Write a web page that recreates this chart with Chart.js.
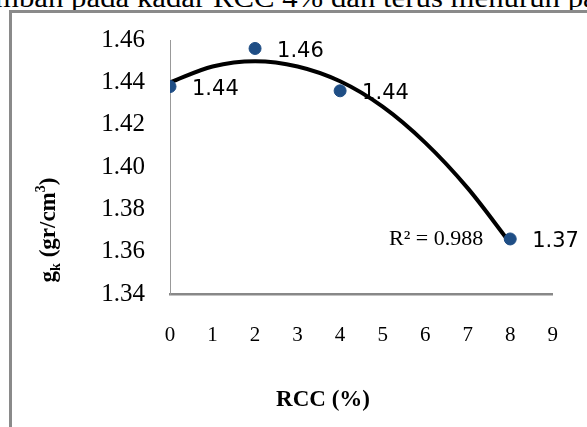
<!DOCTYPE html>
<html>
<head>
<meta charset="utf-8">
<script src="https://cdn.jsdelivr.net/npm/chart.js@4"></script>
<style>
  html, body { margin: 0; padding: 0; background: #fff; }
  #wrap { position: relative; width: 587px; height: 427px; overflow: hidden; }
  #caption {
    position: absolute; left: -5px; top: -15px; white-space: nowrap;
    font: 27px/27px "Liberation Serif", serif; color: #000;
    transform: scaleX(1.14); transform-origin: left top;
  }
  #frame {
    position: absolute; left: 9px; top: 10px; width: 600px; height: 440px;
    border-left: 3px solid #8a8a8a; border-top: 3px solid #8a8a8a;
  }
  #chart { position: absolute; left: 0; top: 0; }
</style>
</head>
<body>
<div id="wrap">
  <div id="caption">mbah pada kadar RCC 4% dan terus menurun pada</div>
  <div id="frame"></div>
  <canvas id="chart" width="587" height="427"></canvas>
</div>
<script>
// measured points
const rccValues = [0, 2, 4, 8]
const densityValues = [1.438, 1.456, 1.436, 1.366]
// polynomial trendline
const trendX = [0, 1, 2, 3, 4, 5, 6, 7, 8]
const trendY = [1.440, 1.4475, 1.450, 1.4475, 1.4405, 1.4285, 1.4115, 1.390, 1.364]
const rSquared = '0.988'
const yTicks = [1.34, 1.36, 1.38, 1.40, 1.42, 1.44, 1.46]
const xTicks = [0, 1, 2, 3, 4, 5, 6, 7, 8, 9]

const serif = '"Liberation Serif", "Times New Roman", serif'

// value labels + R² text
const labelPlugin = {
  id: 'labels',
  afterDatasetsDraw(chart) {
    const ctx = chart.ctx
    const pts = chart.getDatasetMeta(0).data
    ctx.save()
    ctx.fillStyle = '#000'
    ctx.textBaseline = 'middle'
    ctx.textAlign = 'left'
    ctx.font = '21px "DejaVu Sans", sans-serif'
    pts.forEach((p, i) => {
      ctx.fillText(densityValues[i].toFixed(2), p.x + 22, p.y + 3)
    })
    const last = pts[pts.length - 1]
    ctx.font = '22px ' + serif
    ctx.textAlign = 'right'
    ctx.fillText('R\u00B2 = ' + rSquared, last.x - 27, last.y)
    ctx.restore()
  }
}

// axis titles (placed like the original, not centred on the plot)
const titlePlugin = {
  id: 'titles',
  afterDraw(chart) {
    const ctx = chart.ctx
    ctx.save()
    ctx.fillStyle = '#000'
    ctx.textBaseline = 'alphabetic'
    ctx.font = 'bold 23px ' + serif
    ctx.textAlign = 'center'
    ctx.fillText('RCC (%)', 323, 406)

    // y title: g_k (gr/cm^3), rotated
    ctx.translate(55, 230)
    ctx.rotate(-Math.PI / 2)
    const parts = [
      ['g', 'bold 23px ', 0],
      ['k', 'bold 14px ', 5],
      [' (gr/cm', 'bold 23px ', 0],
      ['3', 'bold 14px ', -10],
      [')', 'bold 23px ', 0]
    ]
    let w = 0
    parts.forEach(([t, f]) => { ctx.font = f + serif; w += ctx.measureText(t).width })
    let x = -w / 2
    ctx.textAlign = 'left'
    parts.forEach(([t, f, dy]) => {
      ctx.font = f + serif
      ctx.fillText(t, x, dy)
      x += ctx.measureText(t).width
    })
    ctx.restore()
  }
}

new Chart(document.getElementById('chart'), {
  type: 'scatter',
  data: {
    datasets: [
      {
        label: 'data',
        data: rccValues.map((x, i) => ({ x: x, y: densityValues[i] })),
        backgroundColor: '#1F4E85',
        borderColor: '#1F4E85',
        pointRadius: 6,
        order: 0
      },
      {
        label: 'trend',
        type: 'line',
        data: trendX.map((x, i) => ({ x: x, y: trendY[i] })),
        borderColor: '#000',
        borderWidth: 4,
        pointRadius: 0,
        cubicInterpolationMode: 'monotone',
        fill: false,
        order: 1
      }
    ]
  },
  options: {
    responsive: false,
    animation: false,
    layout: { padding: { left: 0, right: 25, top: 40, bottom: 0 } },
    plugins: { legend: { display: false }, tooltip: { enabled: false } },
    scales: {
      x: {
        type: 'linear',
        min: 0,
        max: 9,
        afterBuildTicks: s => { s.ticks = xTicks.map(v => ({ value: v })) },
        afterFit: s => { s.height = 133 },
        grid: { drawOnChartArea: false, drawTicks: false },
        border: { color: '#888', width: 2.5 },
        ticks: { color: '#000', padding: 29, font: { family: 'Liberation Serif', size: 21 } }
      },
      y: {
        min: 1.34,
        max: 1.46,
        afterBuildTicks: s => { s.ticks = yTicks.map(v => ({ value: v })) },
        afterFit: s => { s.width = 170 },
        grid: { drawOnChartArea: false, drawTicks: false },
        border: { color: '#999', width: 1 },
        ticks: {
          color: '#000', padding: 25,
          font: { family: 'Liberation Serif', size: 25 },
          callback: v => v.toFixed(2)
        }
      }
    }
  },
  plugins: [labelPlugin, titlePlugin]
})
</script>
</body>
</html>
